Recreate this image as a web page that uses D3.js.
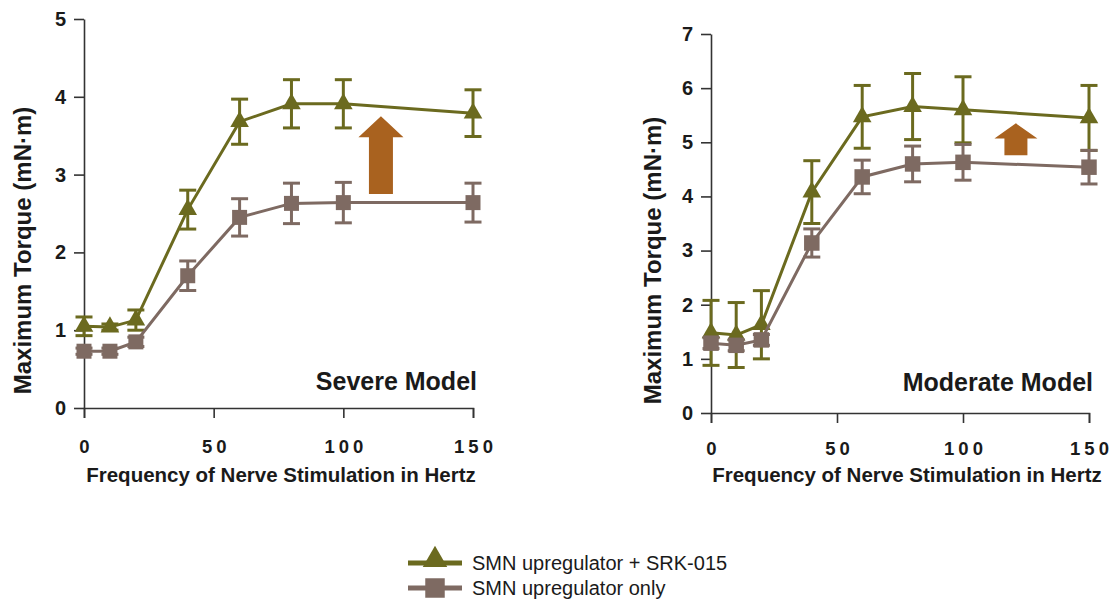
<!DOCTYPE html>
<html>
<head>
<meta charset="utf-8">
<script src="https://cdn.jsdelivr.net/npm/d3@7"></script>
<style>
  body { margin: 0; background: #fff; }
  text { font-family: "Liberation Sans", Arial, sans-serif; fill: #1a1a1a; }
  .axis path, .axis line { stroke: #333; stroke-width: 1.6px; }
  .axis-text { font-weight: bold; text-anchor: middle; }
  .model-text { font-size: 25px; font-weight: bold; text-anchor: end; }
  .legend-text { font-size: 20px; }
</style>
</head>
<body>
<script>
// Data
var freqHz = [0, 10, 20, 40, 60, 80, 100, 150];
var xTicks = [0, 50, 100, 150];
var seriesNames = ["SMN upregulator + SRK-015", "SMN upregulator only"];

// Severe model
var severeCombo    = [1.05, 1.04, 1.13, 2.55, 3.68, 3.91, 3.91, 3.79];
var severeComboErr = [0.12, 0.04, 0.13, 0.25, 0.29, 0.31, 0.31, 0.30];
var severeOnly     = [0.73, 0.73, 0.85, 1.70, 2.45, 2.63, 2.64, 2.64];
var severeOnlyErr  = [0.04, 0.04, 0.06, 0.19, 0.24, 0.26, 0.26, 0.25];
var severeTicks = [0, 1, 2, 3, 4, 5];

// Moderate model
var moderateCombo    = [1.48, 1.44, 1.63, 4.08, 5.47, 5.66, 5.60, 5.45];
var moderateComboErr = [0.60, 0.60, 0.63, 0.58, 0.58, 0.61, 0.61, 0.60];
var moderateOnly     = [1.29, 1.25, 1.35, 3.14, 4.36, 4.60, 4.63, 4.54];
var moderateOnlyErr  = [0.10, 0.10, 0.10, 0.26, 0.31, 0.33, 0.33, 0.31];
var moderateTicks = [0, 1, 2, 3, 4, 5, 6, 7];

// Arrows: frequency, tail, head base, tip (in torque units)
var arrowHz   = [114.5, 121];
var arrowTail = [2.75, 4.76];
var arrowBase = [3.48, 5.07];
var arrowTip  = [3.75, 5.35];

var colors = ["#6b6a1f", "#7e6a62"];
var arrowColor = "#a9621f";

//set svg dimensions
var svgWidth = 1112;
var svgHeight = 603;

var svg = d3.select("body")
  .append("svg")
  .attr("width", svgWidth)
  .attr("height", svgHeight);

// panel layout
var panels = [
  { name: "Severe Model", x0: 84, x1: 473, y0: 408, y1: 19, yMax: 5, ticks: severeTicks,
    series: [[severeCombo, severeComboErr], [severeOnly, severeOnlyErr]],
    tickY: 453, titleY: 482, titleX: 281, yTitleX: 31, modelY: 390, arrowIdx: 0,
    headW: 45, shaftW: 24, symSize: [150, 225] },
  { name: "Moderate Model", x0: 711, x1: 1089, y0: 413, y1: 34, yMax: 7, ticks: moderateTicks,
    series: [[moderateCombo, moderateComboErr], [moderateOnly, moderateOnlyErr]],
    tickY: 455, titleY: 482, titleX: 907, yTitleX: 661, modelY: 391, arrowIdx: 1,
    headW: 43, shaftW: 23, symSize: [150, 240] }
];

var symbols = [d3.symbolTriangle, d3.symbolSquare];

panels.forEach(function(p) {
  var xScale = d3.scaleLinear().domain([0, 150]).range([p.x0, p.x1]);
  var yScale = d3.scaleLinear().domain([0, p.yMax]).range([p.y0, p.y1]);

  var g = svg.append("g");

  // x axis
  var xAxis = g.append("g")
    .attr("class", "axis x-axis")
    .attr("transform", `translate(0, ${p.y0})`)
    .call(d3.axisBottom(xScale).tickValues(xTicks).tickSize(10).tickSizeOuter(10));
  xAxis.selectAll("text")
    .attr("y", null).attr("dy", null)
    .attr("transform", `translate(2, ${p.tickY - p.y0})`)
    .style("font-family", "'Liberation Sans', Arial, sans-serif")
    .style("font-size", "18.5px")
    .style("font-weight", "bold")
    .style("letter-spacing", "4px")
    .style("fill", "#1a1a1a");

  // y axis
  var yAxis = g.append("g")
    .attr("class", "axis y-axis")
    .attr("transform", `translate(${p.x0}, 0)`)
    .call(d3.axisLeft(yScale).tickValues(p.ticks).tickFormat(d3.format("d")).tickSize(10).tickSizeOuter(0).tickPadding(8));
  yAxis.selectAll("text")
    .style("font-family", "'Liberation Sans', Arial, sans-serif")
    .style("font-size", "20px")
    .style("font-weight", "bold")
    .style("fill", "#1a1a1a");

  // series: combo first, then upregulator only on top
  p.series.forEach(function(s, si) {
    var vals = s[0], errs = s[1];
    var pts = freqHz.map(function(f, i) { return { f: f, v: vals[i], e: errs[i] }; });
    var sg = g.append("g");

    // error bars
    var eb = sg.selectAll(".err").data(pts).enter().append("g");
    eb.append("line")
      .attr("x1", function(d) { return xScale(d.f); })
      .attr("x2", function(d) { return xScale(d.f); })
      .attr("y1", function(d) { return yScale(d.v + d.e); })
      .attr("y2", function(d) { return yScale(d.v - d.e); })
      .attr("stroke", colors[si]).attr("stroke-width", 3);
    [1, -1].forEach(function(sign) {
      eb.append("line")
        .attr("x1", function(d) { return xScale(d.f) - 8.5; })
        .attr("x2", function(d) { return xScale(d.f) + 8.5; })
        .attr("y1", function(d) { return yScale(d.v + sign * d.e); })
        .attr("y2", function(d) { return yScale(d.v + sign * d.e); })
        .attr("stroke", colors[si]).attr("stroke-width", 3);
    });

    // line
    sg.append("path")
      .datum(pts)
      .attr("fill", "none")
      .attr("stroke", colors[si])
      .attr("stroke-width", 3)
      .attr("d", d3.line().x(function(d) { return xScale(d.f); }).y(function(d) { return yScale(d.v); }));

    // markers
    sg.selectAll(".mark").data(pts).enter().append("path")
      .attr("transform", function(d) { return `translate(${xScale(d.f)}, ${yScale(d.v)})`; })
      .attr("d", d3.symbol().type(symbols[si]).size(p.symSize[si]))
      .attr("fill", colors[si]);
  });

  // arrow
  var ai = p.arrowIdx;
  var ax = xScale(arrowHz[ai]);
  var arrowPts = [
    [ax - p.shaftW / 2, yScale(arrowTail[ai])],
    [ax - p.shaftW / 2, yScale(arrowBase[ai])],
    [ax - p.headW / 2, yScale(arrowBase[ai])],
    [ax, yScale(arrowTip[ai])],
    [ax + p.headW / 2, yScale(arrowBase[ai])],
    [ax + p.shaftW / 2, yScale(arrowBase[ai])],
    [ax + p.shaftW / 2, yScale(arrowTail[ai])]
  ];
  g.append("path")
    .attr("d", d3.line()(arrowPts) + "Z")
    .attr("fill", arrowColor);

  // model label
  g.append("text")
    .attr("class", "model-text")
    .attr("x", p.x1 + 4)
    .attr("y", p.modelY)
    .text(p.name);

  // x-axis label
  g.append("text")
    .attr("class", "axis-text")
    .attr("x", p.titleX)
    .attr("y", p.titleY)
    .style("font-size", "20.5px")
    .text("Frequency of Nerve Stimulation in Hertz");

  // y-axis label
  g.append("text")
    .attr("class", "axis-text")
    .attr("transform", `translate(${p.yTitleX}, ${(p.y0 + p.y1) / 2 + 37}) rotate(-90)`)
    .style("font-size", "24px")
    .text("Maximum Torque (mN\u00b7m)");
});

// legend
var legendY = [563, 588];
var legend = svg.append("g");
seriesNames.forEach(function(name, i) {
  legend.append("line")
    .attr("x1", 408).attr("x2", 462)
    .attr("y1", legendY[i]).attr("y2", legendY[i])
    .attr("stroke", colors[i]).attr("stroke-width", 5);
  legend.append("path")
    .attr("transform", `translate(435, ${legendY[i] - (i === 0 ? 3 : 0)})`)
    .attr("d", d3.symbol().type(symbols[i]).size(i === 0 ? 260 : 380))
    .attr("fill", colors[i]);
  legend.append("text")
    .attr("class", "legend-text")
    .attr("x", 472)
    .attr("y", legendY[i] + 7)
    .text(name);
});
</script>
</body>
</html>
